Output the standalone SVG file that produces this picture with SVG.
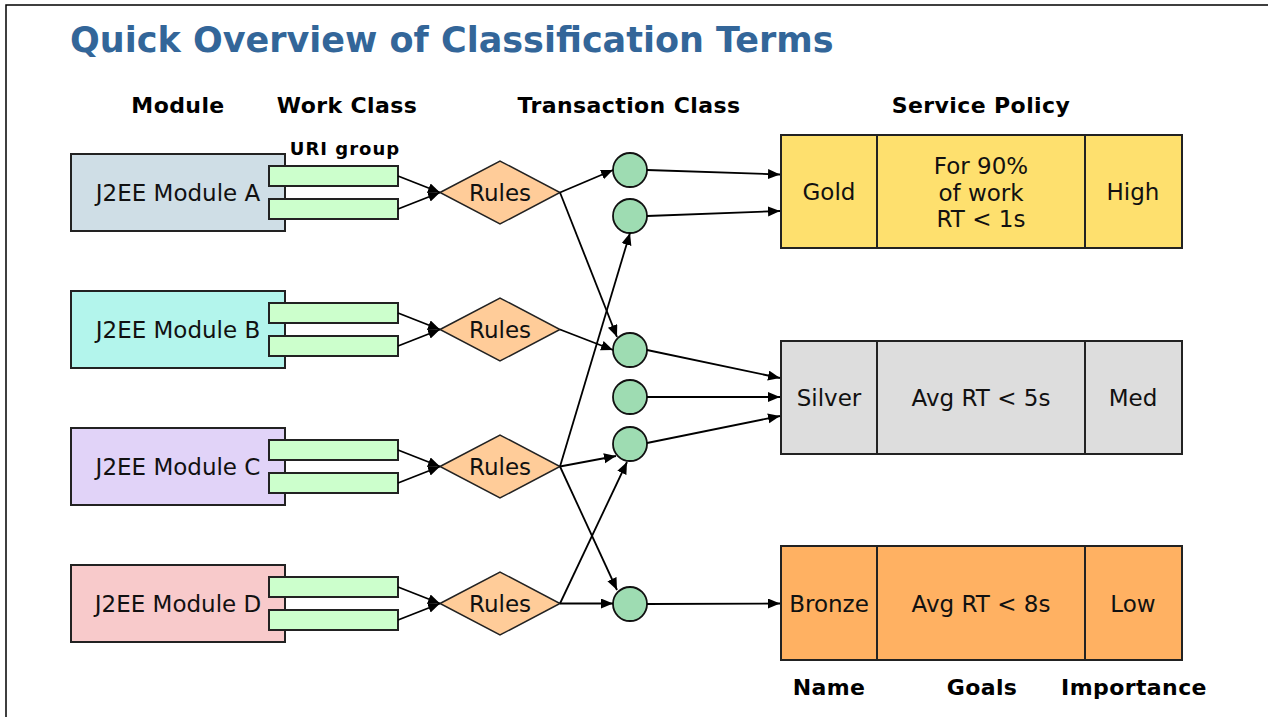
<svg xmlns="http://www.w3.org/2000/svg" width="1268" height="717" viewBox="0 0 1268 717">
<defs>
<marker id="arr" markerUnits="userSpaceOnUse" markerWidth="14" markerHeight="12" refX="12" refY="5" orient="auto">
<path d="M0,0 L12,5 L0,10 z" fill="#000"/>
</marker>
<style>
text{font-family:"DejaVu Sans","Liberation Sans",sans-serif;fill:#111;}
.t{font-size:23px;text-anchor:middle;}
.h{font-size:22px;font-weight:bold;text-anchor:middle;fill:#000;letter-spacing:0.4px;}
.title{font-size:35px;font-weight:bold;fill:#336699;}
.box{stroke:#222;stroke-width:2;}
.uri{fill:#CCFFCC;stroke:#222;stroke-width:2;}
.rules{fill:#FFCC99;stroke:#222;stroke-width:1.5;}
.tc{fill:#9EDCB2;stroke:#111;stroke-width:1.8;}
.c line{stroke:#000;stroke-width:1.8;marker-end:url(#arr);}
.frame{stroke:#000;stroke-width:1.5;fill:none;}
</style>
</defs>
<path class="frame" d="M6,717 L6,5 L1268,5"/>
<text class="title" x="70" y="52">Quick Overview of Classification Terms</text>
<g id="headers">
<text class="h" x="178" y="113">Module</text>
<text class="h" x="347" y="113">Work Class</text>
<text class="h" x="629" y="113">Transaction Class</text>
<text class="h" x="981" y="113">Service Policy</text>
<text class="h" x="345" y="155" style="font-size:18px;letter-spacing:1px">URI group</text>
<text class="h" x="829" y="695">Name</text>
<text class="h" x="982" y="695">Goals</text>
<text class="h" x="1134" y="695">Importance</text>
</g>
<g id="moduleA"><rect class="box" x="71" y="154" width="214" height="77" fill="#CFDEE6"/><text class="t" x="178" y="201">J2EE Module A</text></g>
<g id="moduleB"><rect class="box" x="71" y="291" width="214" height="77" fill="#B3F5EC"/><text class="t" x="178" y="338">J2EE Module B</text></g>
<g id="moduleC"><rect class="box" x="71" y="428" width="214" height="77" fill="#E1D3F8"/><text class="t" x="178" y="475">J2EE Module C</text></g>
<g id="moduleD"><rect class="box" x="71" y="565" width="214" height="77" fill="#F8CACB"/><text class="t" x="178" y="612">J2EE Module D</text></g>
<g id="uriA"><rect class="uri" x="269" y="166" width="129" height="20"/><rect class="uri" x="269" y="199" width="129" height="20"/></g>
<g id="uriB"><rect class="uri" x="269" y="303" width="129" height="20"/><rect class="uri" x="269" y="336" width="129" height="20"/></g>
<g id="uriC"><rect class="uri" x="269" y="440" width="129" height="20"/><rect class="uri" x="269" y="473" width="129" height="20"/></g>
<g id="uriD"><rect class="uri" x="269" y="577" width="129" height="20"/><rect class="uri" x="269" y="610" width="129" height="20"/></g>
<g id="rulesA"><polygon class="rules" points="440,192.5 500,161 560,192.5 500,224"/><text class="t" x="500" y="201">Rules</text></g>
<g id="rulesB"><polygon class="rules" points="440,329.5 500,298 560,329.5 500,361"/><text class="t" x="500" y="338">Rules</text></g>
<g id="rulesC"><polygon class="rules" points="440,466.5 500,435 560,466.5 500,498"/><text class="t" x="500" y="475">Rules</text></g>
<g id="rulesD"><polygon class="rules" points="440,603.5 500,572 560,603.5 500,635"/><text class="t" x="500" y="612">Rules</text></g>
<g id="tcA1"><circle class="tc" cx="630" cy="170" r="17"/></g>
<g id="tcA2"><circle class="tc" cx="630" cy="216" r="17"/></g>
<g id="tcB1"><circle class="tc" cx="630" cy="350" r="17"/></g>
<g id="tcB2"><circle class="tc" cx="630" cy="397" r="17"/></g>
<g id="tcB3"><circle class="tc" cx="630" cy="444" r="17"/></g>
<g id="tcD1"><circle class="tc" cx="630" cy="604" r="17"/></g>
<g id="gold">
<rect class="box" x="781" y="135" width="401" height="113" fill="#FEE06E"/>
<line x1="877" y1="135" x2="877" y2="248" stroke="#222" stroke-width="2"/>
<line x1="1085" y1="135" x2="1085" y2="248" stroke="#222" stroke-width="2"/>
<text class="t" x="829" y="200">Gold</text>
<text class="t" x="981" y="174">For 90%</text>
<text class="t" x="981" y="201">of work</text>
<text class="t" x="981" y="227">RT &lt; 1s</text>
<text class="t" x="1133" y="200">High</text>
</g>
<g id="silver">
<rect class="box" x="781" y="341" width="401" height="113" fill="#DDDDDD"/>
<line x1="877" y1="341" x2="877" y2="454" stroke="#222" stroke-width="2"/>
<line x1="1085" y1="341" x2="1085" y2="454" stroke="#222" stroke-width="2"/>
<text class="t" x="829" y="406">Silver</text>
<text class="t" x="981" y="406">Avg RT &lt; 5s</text>
<text class="t" x="1133" y="406">Med</text>
</g>
<g id="bronze">
<rect class="box" x="781" y="546" width="401" height="114" fill="#FFB162"/>
<line x1="877" y1="546" x2="877" y2="660" stroke="#222" stroke-width="2"/>
<line x1="1085" y1="546" x2="1085" y2="660" stroke="#222" stroke-width="2"/>
<text class="t" x="829" y="612">Bronze</text>
<text class="t" x="981" y="612">Avg RT &lt; 8s</text>
<text class="t" x="1133" y="612">Low</text>
</g>
<g id="connectors" class="c">
<line x1="398" y1="176" x2="440" y2="192.5"/>
<line x1="398" y1="209" x2="440" y2="192.5"/>
<line x1="398" y1="313" x2="440" y2="329.5"/>
<line x1="398" y1="346" x2="440" y2="329.5"/>
<line x1="398" y1="450" x2="440" y2="466.5"/>
<line x1="398" y1="483" x2="440" y2="466.5"/>
<line x1="398" y1="587" x2="440" y2="603.5"/>
<line x1="398" y1="620" x2="440" y2="603.5"/>
<line x1="560" y1="192.5" x2="613" y2="170"/>
<line x1="560" y1="192.5" x2="617" y2="337"/>
<line x1="560" y1="329.5" x2="613" y2="350"/>
<line x1="560" y1="466.5" x2="630" y2="233"/>
<line x1="560" y1="466.5" x2="616" y2="456"/>
<line x1="560" y1="466.5" x2="617" y2="590"/>
<line x1="560" y1="603.5" x2="627" y2="462"/>
<line x1="560" y1="603.5" x2="613" y2="603.5"/>
<line x1="647" y1="170" x2="780" y2="174.5"/>
<line x1="647" y1="216" x2="780" y2="211"/>
<line x1="647" y1="350" x2="780" y2="378"/>
<line x1="647" y1="397" x2="780" y2="397"/>
<line x1="647" y1="443" x2="780" y2="416"/>
<line x1="647" y1="604" x2="780" y2="603.5"/>
</g>
</svg>
